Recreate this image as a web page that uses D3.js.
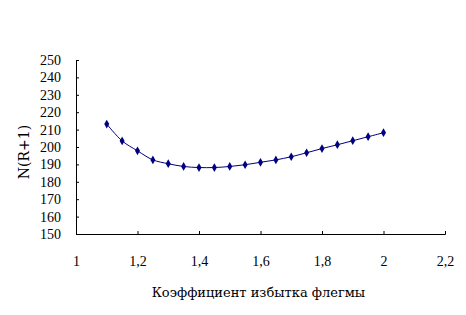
<!DOCTYPE html>
<html>
<head>
<meta charset="utf-8">
<script src="https://cdn.jsdelivr.net/npm/d3@7"></script>
<style>
  body { margin: 0; background: #fff; }
</style>
</head>
<body>
<svg id="chart"></svg>
<script>
// reflux excess ratio vs N(R+1)
const ratios = [1.1, 1.15, 1.2, 1.25, 1.3, 1.35, 1.4, 1.45, 1.5, 1.55, 1.6, 1.65, 1.7, 1.75, 1.8, 1.85, 1.9, 1.95, 2.0];
const values = [213.2, 203.5, 197.8, 192.6, 190.4, 188.8, 188.2, 188.2, 188.8, 189.8, 191.2, 192.6, 194.4, 196.7, 199.1, 201.3, 203.6, 205.9, 208.2];
const xTicks = [1, 1.2, 1.4, 1.6, 1.8, 2, 2.2];
const yTicks = [150, 160, 170, 180, 190, 200, 210, 220, 230, 240, 250];

const width = 466;
const height = 315;
const plotLeft = 76, plotRight = 445, plotTop = 60, plotBottom = 234;
const tickFont = '"Liberation Serif", serif';
const titleFont = '"DejaVu Serif", serif';

const svg = d3.select('#chart')
  .attr('width', width)
  .attr('height', height);

const x = d3.scaleLinear().domain([1, 2.2]).range([plotLeft, plotRight]);
const y = d3.scaleLinear().domain([150, 250]).range([plotBottom, plotTop]);

const fmt = d => String(d).replace('.', ',');

// axes: ticks point inward like the original
svg.append('g')
  .attr('transform', `translate(0,${plotBottom})`)
  .call(d3.axisBottom(x).tickValues(xTicks).tickSize(-3).tickPadding(22).tickFormat(fmt))
  .attr('font-family', tickFont)
  .attr('font-size', 14);

svg.append('g')
  .attr('transform', `translate(${plotLeft},0)`)
  .call(d3.axisLeft(y).tickValues(yTicks).tickSize(-3).tickPadding(15).tickFormat(d3.format('d')))
  .attr('font-family', tickFont)
  .attr('font-size', 14);

svg.selectAll('.domain').attr('stroke', '#000');
svg.selectAll('.tick line').attr('stroke', '#000');
svg.selectAll('.tick text').attr('fill', '#000');

const pts = ratios.map((r, i) => [r, values[i]]);

svg.append('path')
  .datum(pts)
  .attr('fill', 'none')
  .attr('stroke', '#000080')
  .attr('stroke-width', 1)
  .attr('d', d3.line().x(d => x(d[0])).y(d => y(d[1])).curve(d3.curveCatmullRom));

svg.append('g')
  .selectAll('path')
  .data(pts)
  .enter()
  .append('path')
  .attr('transform', d => `translate(${x(d[0])},${y(d[1])})`)
  .attr('d', d3.symbol().type(d3.symbolDiamond).size(22))
  .attr('fill', '#000080');

svg.append('text')
  .attr('x', (plotLeft + plotRight) / 2 - 2)
  .attr('y', 297)
  .attr('text-anchor', 'middle')
  .attr('font-family', titleFont)
  .attr('font-size', 13)
  .text('Коэффициент избытка флегмы');

svg.append('text')
  .attr('transform', `translate(29,152) rotate(-90)`)
  .attr('text-anchor', 'middle')
  .attr('font-family', titleFont)
  .attr('font-size', 14)
  .text('N(R+1)');
</script>
</body>
</html>
